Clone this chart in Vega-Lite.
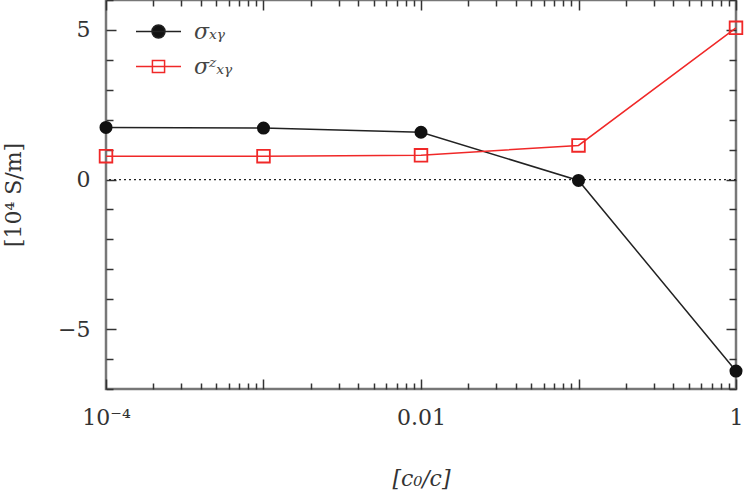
{
  "$schema": "https://vega.github.io/schema/vega-lite/v6.json",
  "width": 630,
  "height": 389,
  "autosize": {"type": "none"},
  "padding": {"left": 106, "top": 0, "right": 11, "bottom": 103},
  "background": "white",
  "config": {
    "view": {"stroke": "#777777", "strokeWidth": 2.5},
    "font": "DejaVu Serif",
    "axis": {
      "labelFont": "DejaVu Serif",
      "titleFont": "DejaVu Serif",
      "labelFontSize": 22,
      "titleFontSize": 22,
      "labelColor": "#333333",
      "titleColor": "#333333",
      "titleFontWeight": "normal",
      "tickColor": "#333333",
      "tickWidth": 1.5,
      "domain": false,
      "grid": false,
      "labelOverlap": false,
      "labelFlush": false
    }
  },
  "datasets": {
    "pts": [
      {"x": 0.0001, "y": 1.74, "series": "sxy"},
      {"x": 0.001, "y": 1.72, "series": "sxy"},
      {"x": 0.01, "y": 1.58, "series": "sxy"},
      {"x": 0.1, "y": -0.03, "series": "sxy"},
      {"x": 1, "y": -6.4, "series": "sxy"},
      {"x": 0.0001, "y": 0.78, "series": "szxy"},
      {"x": 0.001, "y": 0.78, "series": "szxy"},
      {"x": 0.01, "y": 0.81, "series": "szxy"},
      {"x": 0.1, "y": 1.14, "series": "szxy"},
      {"x": 1, "y": 5.07, "series": "szxy"}
    ],
    "zero": [{"level": 0}]
  },
  "layer": [
    {
      "data": {"name": "zero"},
      "mark": {"type": "rule", "color": "#222222", "strokeWidth": 1.3, "strokeDash": [2, 3]},
      "encoding": {
        "y": {"field": "level", "type": "quantitative", "scale": {"domain": [-7, 6], "nice": false, "zero": false}, "axis": null}
      }
    },
    {
      "data": {"name": "pts"},
      "mark": {"type": "line", "strokeWidth": 1.5},
      "encoding": {
        "x": {
          "field": "x", "type": "quantitative",
          "scale": {"type": "log", "domain": [0.0001, 1], "nice": false},
          "title": "[c₀/c]",
          "axis": {
            "orient": "bottom",
            "titleFontStyle": "italic",
            "titlePadding": 36,
            "labelPadding": 28,
            "values": [0.0001, 0.0002, 0.0003, 0.0004, 0.0005, 0.0006, 0.0007, 0.0008, 0.0009, 0.001, 0.002, 0.003, 0.004, 0.005, 0.006, 0.007, 0.008, 0.009, 0.01, 0.02, 0.03, 0.04, 0.05, 0.06, 0.07, 0.08, 0.09, 0.1, 0.2, 0.3, 0.4, 0.5, 0.6, 0.7, 0.8, 0.9, 1],
            "labelExpr": "abs(log(datum.value)/LN10 + 4) < 0.001 ? '10⁻⁴' : abs(log(datum.value)/LN10 + 2) < 0.001 ? '0.01' : abs(log(datum.value)/LN10) < 0.001 ? '1' : ''",
            "tickSize": {"condition": {"test": "abs(log(datum.value)/LN10 - round(log(datum.value)/LN10)) < 0.001", "value": -10}, "value": -6}
          }
        },
        "y": {
          "field": "y", "type": "quantitative",
          "scale": {"domain": [-7, 6], "nice": false, "zero": false},
          "title": "[10⁴ S/m]",
          "axis": {
            "orient": "left",
            "titlePadding": 32,
            "labelPadding": 26,
            "values": [-7, -6, -5, -4, -3, -2, -1, 0, 1, 2, 3, 4, 5, 6],
            "labelExpr": "abs(datum.value % 5) < 0.001 ? datum.label : ''",
            "tickSize": {"condition": {"test": "abs(datum.value % 5) < 0.001", "value": -10}, "value": -7}
          }
        },
        "color": {
          "field": "series", "type": "nominal",
          "scale": {"domain": ["sxy", "szxy"], "range": ["#222222", "#f02828"]},
          "legend": {
            "title": null,
            "orient": "none",
            "legendX": 29,
            "legendY": 8,
            "padding": 0,
            "labelFont": "DejaVu Serif",
            "labelFontStyle": "italic",
            "labelFontSize": 22,
            "labelColor": "#444444",
            "labelOffset": 12,
            "rowPadding": -1,
            "symbolSize": 2025,
            "symbolStrokeWidth": 1.5,
            "labelExpr": "datum.value === 'sxy' ? 'σₓᵧ' : 'σᶻₓᵧ'",
            "encode": {
              "symbols": {
                "update": {
                  "shape": {"signal": "datum.value === 'sxy' ? 'M-1,0H1M0.29,0A0.29,0.29,0,1,1,-0.29,0A0.29,0.29,0,1,1,0.29,0Z' : 'M-1,0H1M-0.27,-0.27H0.27V0.27H-0.27Z'"},
                  "fill": {"signal": "datum.value === 'sxy' ? '#111111' : 'transparent'"},
                  "stroke": {"signal": "datum.value === 'sxy' ? '#222222' : '#f02828'"},
                  "strokeWidth": {"value": 1.5},
                  "size": {"value": 2025},
                  "opacity": {"value": 1}
                }
              }
            }
          }
        }
      }
    },
    {
      "data": {"name": "pts"},
      "transform": [{"filter": "datum.series === 'sxy'"}],
      "mark": {"type": "point", "shape": "circle", "size": 170, "filled": true, "color": "#111111", "opacity": 1},
      "encoding": {
        "x": {"field": "x", "type": "quantitative",
          "axis": {
            "orient": "top", "labels": false, "title": null,
            "values": [0.0001, 0.0002, 0.0003, 0.0004, 0.0005, 0.0006, 0.0007, 0.0008, 0.0009, 0.001, 0.002, 0.003, 0.004, 0.005, 0.006, 0.007, 0.008, 0.009, 0.01, 0.02, 0.03, 0.04, 0.05, 0.06, 0.07, 0.08, 0.09, 0.1, 0.2, 0.3, 0.4, 0.5, 0.6, 0.7, 0.8, 0.9, 1],
            "tickSize": {"condition": {"test": "abs(log(datum.value)/LN10 - round(log(datum.value)/LN10)) < 0.001", "value": -10}, "value": -6}
          }
        },
        "y": {"field": "y", "type": "quantitative",
          "axis": {
            "orient": "right", "labels": false, "title": null,
            "values": [-7, -6, -5, -4, -3, -2, -1, 0, 1, 2, 3, 4, 5, 6],
            "tickSize": {"condition": {"test": "abs(datum.value % 5) < 0.001", "value": -10}, "value": -7}
          }
        }
      }
    },
    {
      "data": {"name": "pts"},
      "transform": [{"filter": "datum.series === 'szxy'"}],
      "mark": {"type": "point", "shape": "square", "size": 160, "filled": false, "color": "#f02828", "strokeWidth": 1.8, "opacity": 1},
      "encoding": {
        "x": {"field": "x", "type": "quantitative", "axis": null},
        "y": {"field": "y", "type": "quantitative", "axis": null}
      }
    }
  ],
  "resolve": {"axis": {"x": "independent", "y": "independent"}}
}
